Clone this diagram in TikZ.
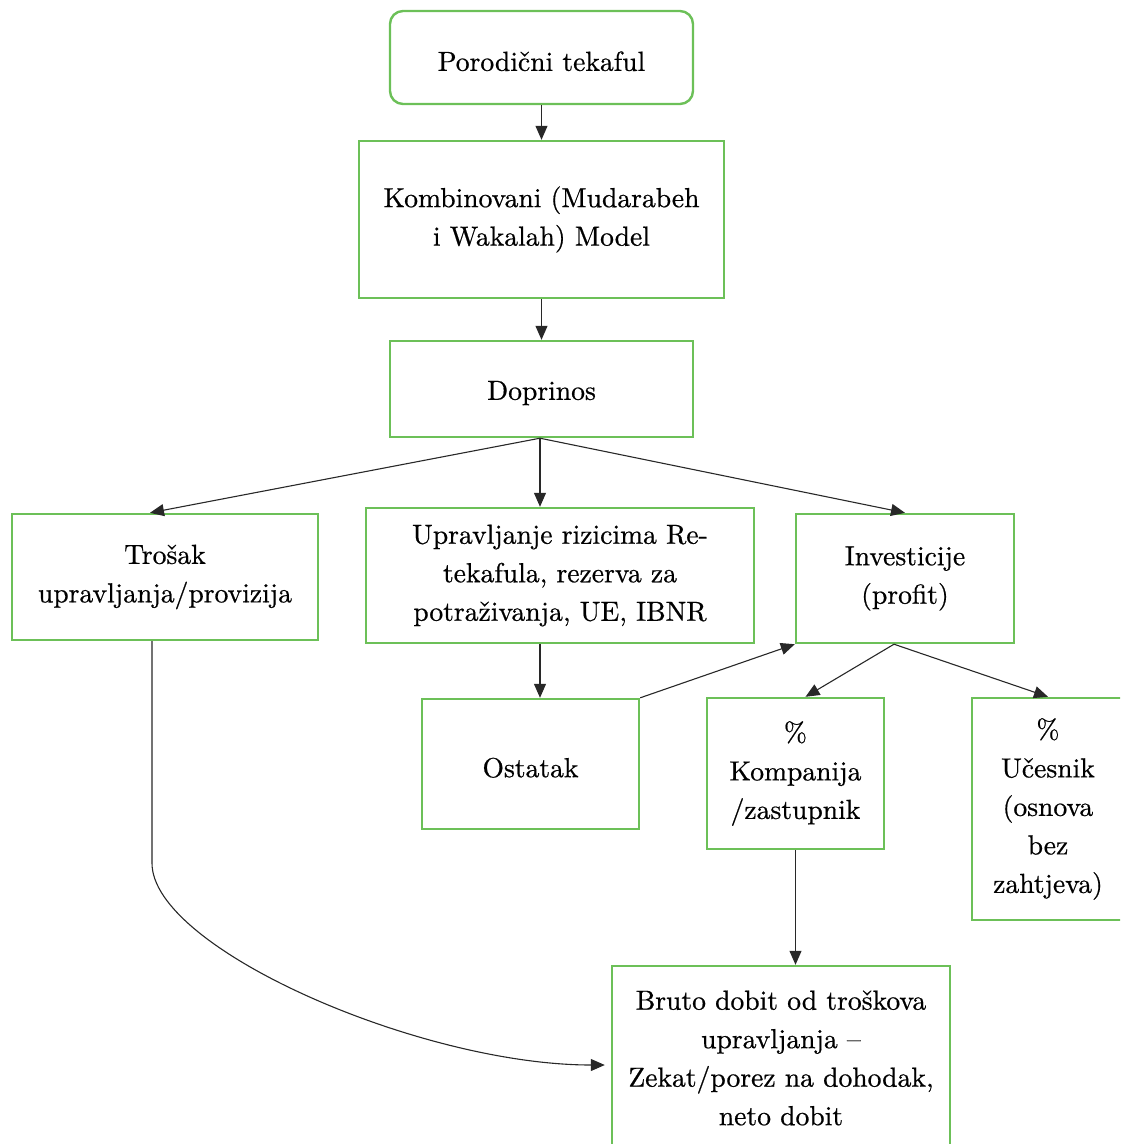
\documentclass[tikz,border=0pt]{standalone}
\usepackage{fontspec}
\newfontfamily\boxface{lmroman10-regular.otf}[FakeBold=0.6]
\usetikzlibrary{arrows.meta,calc}
\definecolor{boxgreen}{RGB}{108,192,88}
\definecolor{linegray}{RGB}{40,40,40}
\begin{document}
\begin{tikzpicture}[x=1pt,y=-1pt,
  box/.style={draw=boxgreen,line width=2.4pt,fill=white,align=center,inner sep=0pt,
    font=\boxface\fontsize{27.6}{38.5}\selectfont,text=black,
    execute at begin node={\rule{0pt}{27pt}}},
  conn/.style={draw=linegray,line width=1.1pt,-{Triangle[length=14pt,width=12pt]}}]
\useasboundingbox (0,0) rectangle (1120,1144);
\clip (0,0) rectangle (1120,1144);

% boxes
\node[box,rounded corners=13pt,minimum width=303pt,minimum height=93pt] (fam) at (541.5,57.5) {Porodični tekaful};
\node[box,minimum width=365pt,minimum height=157pt] (model) at (541.5,219.5) {Kombinovani (Mudarabeh\\i Wakalah) Model};
\node[box,minimum width=303pt,minimum height=96pt] (dop) at (541.5,389) {Doprinos};
\node[box,minimum width=306pt,minimum height=126pt] (tro) at (165,577) {Trošak\\upravljanja/provizija};
\node[box,minimum width=388pt,minimum height=135pt] (upr) at (560,575.5) {Upravljanje rizicima Re-\\tekafula, rezerva za\\potraživanja, UE, IBNR};
\node[box,minimum width=218pt,minimum height=129pt] (inv) at (905,578.5) {Investicije\\(profit)};
\node[box,minimum width=217pt,minimum height=130pt] (ost) at (530.5,764) {Ostatak};
\node[box,minimum width=177pt,minimum height=151pt] (kom) at (795.5,773.5) {\%\\Kompanija\\/zastupnik};
\node[box,minimum width=152pt,minimum height=222pt] (uce) at (1048,809) {\%\\Učesnik\\(osnova\\bez\\zahtjeva)};
\node[box,minimum width=338pt,minimum height=184pt] (bru) at (781,1058) {Bruto dobit od troškova\\upravljanja –\\Zekat/porez na dohodak,\\neto dobit};

% connectors
\coordinate (split) at ($(dop.south)+(-1.5,0)$);
\draw[conn] (fam.south) -- (model.north);
\draw[conn] (model.south) -- (dop.north);
\draw[conn] (split) -- ($(tro.north)+(-15,0)$);
\draw[conn] (split) -- (split |- upr.north);
\draw[conn] (split) -- (inv.north);
\draw[conn] (split |- upr.south) -- (split |- ost.north);
\draw[conn] (ost.north east) -- (inv.south west);
\draw[conn] ($(inv.south)+(-11,0)$) -- ($(kom.north)+(10,0)$);
\draw[conn] ($(inv.south)+(-11,0)$) -- (uce.north);
\draw[conn] (kom.south) -- (kom.south |- bru.north);
\draw[conn] ($(tro.south)+(-13,0)$) -- ++(0,222)
  .. controls +(0,85) and +(-185,0) .. ($(bru.west)+(-6,7)$);
\end{tikzpicture}
\end{document}
